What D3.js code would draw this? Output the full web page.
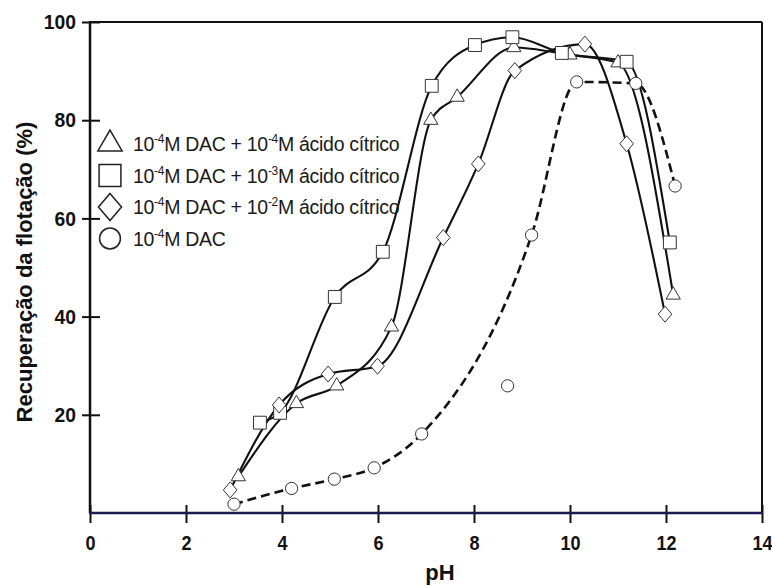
<!DOCTYPE html>
<html>
<head>
<meta charset="utf-8">
<script src="https://cdn.jsdelivr.net/npm/d3@7"></script>
<style>
  body { margin: 0; background: #fff; }
</style>
</head>
<body>
<script>
const width = 772, height = 586;

// values: pH and flotation recovery (%)
const phTri = [3.09, 4.3, 5.14, 6.28, 7.1, 7.65, 8.83, 10.0, 11.0, 12.15];
const recTri = [7.4, 22.3, 25.9, 37.9, 80.0, 84.7, 94.8, 93.3, 91.7, 44.4];

const phSq = [3.54, 3.96, 5.1, 6.1, 7.12, 8.02, 8.8, 9.83, 11.18, 12.08];
const recSq = [18.4, 20.4, 44.0, 53.2, 87.0, 95.3, 96.9, 93.7, 91.9, 55.1];

const phDia = [2.92, 3.94, 4.96, 5.99, 7.36, 8.09, 8.85, 10.31, 11.18, 11.98];
const recDia = [4.7, 22.0, 28.3, 29.9, 56.1, 71.1, 90.1, 95.5, 75.2, 40.5];

const phDac = [3.0, 4.2, 5.09, 5.92, 6.91, 8.7, 9.2, 10.14, 11.37, 12.19];
const recDac = [1.8, 5.0, 6.9, 9.2, 16.1, 25.9, 56.6, 87.8, 87.5, 66.6];
// the dashed curve in the figure does not go through this point
const dacOffCurve = [8.7];

const xTicks = [0, 2, 4, 6, 8, 10, 12, 14];
const yTicks = [20, 40, 60, 80, 100];

// legend text, odd entries are superscripts
const legendTri = ["10", "-4", "M DAC + 10", "-4", "M ácido cítrico"];
const legendSq = ["10", "-4", "M DAC + 10", "-3", "M ácido cítrico"];
const legendDia = ["10", "-4", "M DAC + 10", "-2", "M ácido cítrico"];
const legendDac = ["10", "-4", "M DAC"];

const series = [
  {ph: phTri, rec: recTri, shape: "triangle", label: legendTri, dashed: false},
  {ph: phSq, rec: recSq, shape: "square", label: legendSq, dashed: false},
  {ph: phDia, rec: recDia, shape: "diamond", label: legendDia, dashed: false},
  {ph: phDac, rec: recDac, shape: "circle", label: legendDac, dashed: true, skip: dacOffCurve}
];

const x = d3.scaleLinear([0, 14], [90, 762]);
const y = d3.scaleLinear([0, 100], [513, 22]);

const tickFont = "'Liberation Sans', Arial, sans-serif";

// diamond a bit taller than wide, like the figure
function diamondType(hw, hh) {
  return {
    draw(context) {
      context.moveTo(0, -hh);
      context.lineTo(hw, 0);
      context.lineTo(0, hh);
      context.lineTo(-hw, 0);
      context.closePath();
    }
  };
}

function symbolFor(shape, big) {
  const k = big ? 1.7 : 1;
  if (shape == "triangle") return d3.symbol(d3.symbolTriangle, 88 * k * k)();
  if (shape == "square") return d3.symbol(d3.symbolSquare, 165 * k * k)();
  if (shape == "circle") return d3.symbol(d3.symbolCircle, 118 * k * k)();
  return d3.symbol(diamondType(6.8 * k, 8 * k))();
}

// bold, slightly condensed numbers like the original
function condensed(sel, size) {
  sel.attr("font-family", tickFont)
    .attr("font-weight", "bold")
    .attr("font-size", size)
    .attr("fill", "#111");
}

const svg = d3.select("body").append("svg")
    .attr("width", width)
    .attr("height", height)
    .attr("viewBox", [0, 0, width, height]);

// frame: top and right plain lines
svg.append("line")
    .attr("x1", x(0)).attr("x2", x(14))
    .attr("y1", y(100)).attr("y2", y(100))
    .attr("stroke", "#111").attr("stroke-width", 2);
svg.append("line")
    .attr("x1", x(14)).attr("x2", x(14))
    .attr("y1", y(100)).attr("y2", y(0))
    .attr("stroke", "#111").attr("stroke-width", 2);

// y axis
const yAxis = svg.append("g")
    .attr("transform", `translate(${x(0)},0)`)
    .call(d3.axisLeft(y).tickValues(yTicks).tickSize(8).tickPadding(6));
yAxis.select(".domain").remove();
yAxis.selectAll(".tick line")
    .attr("x1", 10)
    .attr("stroke", "#111")
    .attr("stroke-width", 2);
yAxis.selectAll(".tick text")
    .call(condensed, 21)
    .attr("transform", "translate(-14,0) scale(0.92,1) translate(14,0)");
svg.append("line")
    .attr("x1", x(0)).attr("x2", x(0))
    .attr("y1", y(100) - 1).attr("y2", y(0))
    .attr("stroke", "#111").attr("stroke-width", 2.5);

// x axis
const xAxis = svg.append("g")
    .attr("transform", `translate(0,${y(0)})`)
    .call(d3.axisBottom(x).tickValues(xTicks).tickSize(10));
xAxis.select(".domain").remove();
xAxis.selectAll(".tick line")
    .attr("y1", -8)
    .attr("stroke", "#111")
    .attr("stroke-width", 2);
xAxis.selectAll(".tick text")
    .attr("y", 37)
    .attr("dy", null)
    .call(condensed, 21)
    .attr("transform", "scale(0.86,1)");
svg.append("line")
    .attr("x1", x(0) - 1).attr("x2", x(14) + 1)
    .attr("y1", y(0)).attr("y2", y(0))
    .attr("stroke", "#1c1c50").attr("stroke-width", 2.5);

// axis titles
svg.append("text")
    .attr("x", 440).attr("y", 580)
    .attr("text-anchor", "middle")
    .attr("font-family", tickFont)
    .attr("font-weight", "bold")
    .attr("font-size", 22)
    .attr("fill", "#111")
    .text("pH");
svg.append("text")
    .attr("transform", "translate(32,272) rotate(-90)")
    .attr("text-anchor", "middle")
    .attr("font-family", tickFont)
    .attr("font-weight", "bold")
    .attr("font-size", 22)
    .attr("fill", "#111")
    .text("Recuperação da flotação (%)");

// curves
const line = d3.line()
    .x(d => x(d[0]))
    .y(d => y(d[1]))
    .curve(d3.curveMonotoneX);

svg.append("g")
    .attr("fill", "none")
  .selectAll("path")
  .data(series)
  .join("path")
    .attr("stroke", "#111")
    .attr("stroke-width", d => d.dashed ? 2.6 : 2.1)
    .attr("stroke-dasharray", d => d.dashed ? "9,5" : null)
    .attr("d", d => line(d.ph.map((p, i) => [p, d.rec[i]])
        .filter(pt => !(d.skip || []).includes(pt[0]))));

// markers
svg.append("g")
  .selectAll("g")
  .data(series)
  .join("g")
  .each(function(s) {
    d3.select(this).selectAll("path")
      .data(s.ph.map((p, i) => [p, s.rec[i]]))
      .join("path")
        .attr("transform", d => `translate(${x(d[0])},${y(d[1])})`)
        .attr("d", symbolFor(s.shape, false))
        .attr("fill", "#fff")
        .attr("stroke", "#333")
        .attr("stroke-width", 1);
  });

// legend
const legend = svg.append("g")
  .selectAll("g")
  .data(series)
  .join("g")
    .attr("transform", (d, i) => `translate(110,${144 + i * 31.5})`);

legend.append("path")
    .attr("d", d => symbolFor(d.shape, true))
    .attr("fill", "#fff")
    .attr("stroke", "#222")
    .attr("stroke-width", 1.5);

legend.append("text")
    .attr("x", 23)
    .attr("y", 7)
    .attr("font-family", tickFont)
    .attr("font-size", 19.5)
    .attr("letter-spacing", -0.3)
    .attr("fill", "#1a1a1a")
  .each(function(d) {
    const t = d3.select(this);
    d.label.forEach((part, i) => {
      const sup = i % 2 == 1;
      t.append("tspan")
        .attr("font-size", sup ? 12 : null)
        .attr("dy", sup ? -8 : (i > 0 ? 8 : 0))
        .text(part);
    });
  });
</script>
</body>
</html>
